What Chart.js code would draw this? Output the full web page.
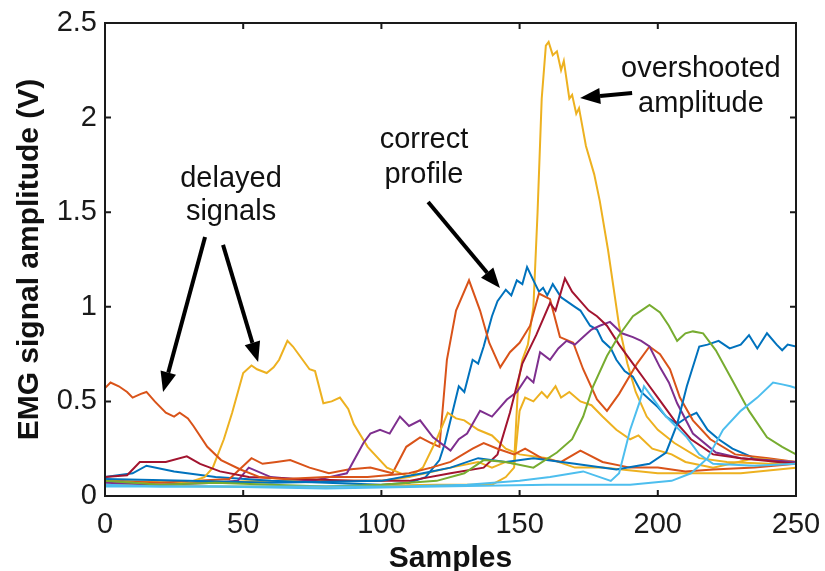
<!DOCTYPE html>
<html>
<head>
<meta charset="utf-8">
<script src="https://cdn.jsdelivr.net/npm/chart.js@4"></script>
<style>
  html, body { margin: 0; padding: 0; background: #fff; }
  #wrap { width: 825px; height: 571px; }
</style>
</head>
<body>
<div id="wrap"><canvas id="myChart" width="825" height="571"></canvas></div>
<script>
// axis ticks
const xTicks = [0, 50, 100, 150, 200, 250];
const yTicks = [0, 0.5, 1, 1.5, 2, 2.5];

// series (sample index, amplitude in V)
const delayedRedX = [0, 2, 5, 8, 10, 13, 15, 18, 22, 25, 27, 30, 32, 37, 42, 49, 56, 65, 80, 95, 110, 118, 125, 133, 137, 142, 148, 152, 158, 165, 172, 180, 190, 200, 210, 220, 235, 250];
const delayedRedY = [0.57, 0.6, 0.58, 0.55, 0.52, 0.54, 0.55, 0.5, 0.44, 0.42, 0.44, 0.41, 0.37, 0.26, 0.19, 0.14, 0.1, 0.09, 0.1, 0.1, 0.12, 0.15, 0.18, 0.25, 0.28, 0.25, 0.22, 0.25, 0.2, 0.18, 0.24, 0.18, 0.15, 0.15, 0.13, 0.14, 0.15, 0.17];

const delayedYellowX = [0, 10, 20, 30, 36, 39, 43, 46, 50, 53, 55, 58.5, 61, 63, 66, 68, 70.5, 74, 76, 79, 82, 85, 88, 90, 95, 102, 107, 110, 115, 120, 124, 127, 130, 135, 140, 145, 150, 160, 170, 180, 200, 230, 250];
const delayedYellowY = [0.08, 0.07, 0.06, 0.07, 0.1, 0.15, 0.3, 0.44, 0.65, 0.69, 0.67, 0.65, 0.68, 0.72, 0.82, 0.79, 0.74, 0.67, 0.66, 0.49, 0.5, 0.52, 0.46, 0.38, 0.26, 0.15, 0.12, 0.1, 0.15, 0.3, 0.44, 0.41, 0.4, 0.35, 0.32, 0.25, 0.22, 0.2, 0.15, 0.15, 0.12, 0.12, 0.15];

const correctX = [0, 10, 15, 25, 40, 60, 80, 100, 110, 116, 121, 123, 125, 128, 130, 133, 135, 137, 140, 142, 145, 147, 149, 151, 152.7, 155, 157, 158.5, 160, 162, 165, 167, 170, 172, 175.5, 178, 180, 183, 185, 188, 191, 194, 197, 200, 203, 207, 211, 214, 218, 222, 227, 235, 250];
const correctY = [0.1, 0.12, 0.16, 0.13, 0.1, 0.08, 0.07, 0.06, 0.07, 0.1, 0.19, 0.28, 0.4, 0.58, 0.55, 0.72, 0.7, 0.79, 0.95, 1.03, 1.09, 1.06, 1.14, 1.12, 1.21, 1.14, 1.08, 1.1, 1.06, 1.12, 1.05, 1.03, 1.0, 0.98, 0.9, 0.88, 0.82, 0.78, 0.72, 0.66, 0.63, 0.55, 0.51, 0.47, 0.42, 0.38, 0.42, 0.44, 0.35, 0.3, 0.25, 0.2, 0.17];

const purpleX = [0, 20, 40, 48, 52, 60, 75, 87.5, 93.5, 96, 99.5, 103, 106.7, 110, 114, 118.7, 125, 128, 131, 135.7, 140, 143, 145.4, 149, 152.7, 155, 157.4, 161, 164, 167, 170, 173, 176, 179, 182.7, 187, 191, 194, 197, 200.8, 204, 207, 212.7, 221, 230, 250];
const purpleY = [0.07, 0.06, 0.07, 0.08, 0.15, 0.1, 0.08, 0.12, 0.28, 0.33, 0.35, 0.33, 0.42, 0.37, 0.4, 0.31, 0.24, 0.3, 0.33, 0.45, 0.42, 0.47, 0.51, 0.55, 0.63, 0.6, 0.76, 0.72, 0.78, 0.82, 0.8, 0.84, 0.88, 0.9, 0.92, 0.86, 0.84, 0.82, 0.79, 0.68, 0.6, 0.49, 0.33, 0.23, 0.2, 0.18];

const greenX = [0, 20, 40, 60, 80, 100, 120, 130, 137, 145, 155, 163.5, 169, 173, 176.6, 181.6, 186, 191, 194, 197, 200.8, 204, 207, 210, 212.7, 216.4, 221, 227, 233, 239.5, 245, 250];
const greenY = [0.08, 0.06, 0.07, 0.06, 0.05, 0.06, 0.08, 0.12, 0.19, 0.18, 0.15, 0.23, 0.3, 0.42, 0.58, 0.74, 0.85, 0.95, 0.98, 1.01, 0.97, 0.9, 0.82, 0.86, 0.87, 0.86, 0.77, 0.61, 0.45, 0.31, 0.26, 0.22];

const lightBlueX = [0, 20, 50, 80, 107, 131, 150, 161, 173, 183, 186, 190, 193.5, 195, 199, 203, 210.5, 215, 220, 235, 250];
const lightBlueY = [0.06, 0.05, 0.05, 0.05, 0.05, 0.06, 0.08, 0.1, 0.13, 0.08, 0.12, 0.35, 0.5, 0.58, 0.5, 0.42, 0.31, 0.22, 0.17, 0.16, 0.17];

const darkRedX = [0, 8, 12.6, 22, 29.6, 34.4, 41.6, 52, 70, 90, 110, 125, 137, 142, 146.5, 151, 156, 161, 163, 166.4, 169, 172, 175, 178, 181.6, 186, 191, 196, 201, 206, 212, 220, 230, 250];
const darkRedY = [0.1, 0.11, 0.18, 0.18, 0.21, 0.17, 0.13, 0.1, 0.09, 0.08, 0.08, 0.12, 0.15, 0.22, 0.44, 0.7, 0.85, 1.02, 0.98, 1.15, 1.08, 1.03, 0.98, 0.95, 0.9, 0.8, 0.7, 0.6, 0.5, 0.4, 0.3, 0.22, 0.2, 0.17];

const lateBlueX = [0, 30, 60, 100, 115, 125, 135, 145, 155, 170, 185, 197, 203, 207, 210.5, 215, 218, 222, 226, 230, 233, 236, 239.5, 243, 245, 247, 250];
const lateBlueY = [0.09, 0.08, 0.07, 0.08, 0.12, 0.15, 0.2, 0.18, 0.2, 0.17, 0.14, 0.17, 0.23, 0.38, 0.58, 0.79, 0.8, 0.82, 0.78, 0.8, 0.85, 0.78, 0.86, 0.8, 0.77, 0.8, 0.79];

const peakRedX = [0, 20, 45, 53, 57, 62, 67, 74, 81, 88, 96, 104, 109, 114, 118, 121, 123.7, 127, 131.7, 135.7, 139, 143, 146.5, 150, 153.8, 157, 161, 164.6, 169.4, 173, 178, 181.6, 186, 192.5, 197, 200.8, 204.4, 208, 212.7, 219, 228, 240, 250];
const peakRedY = [0.08, 0.07, 0.09, 0.2, 0.17, 0.18, 0.19, 0.15, 0.12, 0.14, 0.15, 0.12, 0.26, 0.31, 0.28, 0.26, 0.72, 0.98, 1.14, 0.98, 0.81, 0.68, 0.76, 0.81, 0.9, 1.07, 1.04, 0.84, 0.81, 0.67, 0.51, 0.45, 0.54, 0.7, 0.79, 0.75, 0.67, 0.52, 0.4, 0.3, 0.22, 0.2, 0.18];

const overshootX = [0, 30, 60, 100, 110, 125, 135, 140, 145, 148, 149.5, 151, 153, 155, 156.5, 158, 159.5, 160.5, 162, 163.5, 165, 166, 168, 169, 170.5, 171.5, 174, 177, 179, 182, 184, 186, 189, 192, 196, 200, 206, 215, 225, 240, 250];
const overshootY = [0.08, 0.07, 0.08, 0.08, 0.1, 0.15, 0.18, 0.15, 0.18, 0.17, 0.6, 0.72, 0.8, 1.0, 1.5, 2.1, 2.38, 2.4, 2.33, 2.35, 2.25, 2.3, 2.1, 2.12, 2.02, 2.05, 1.85, 1.7, 1.56, 1.3, 1.1, 0.9, 0.7, 0.55, 0.42, 0.35, 0.28, 0.2, 0.18, 0.17, 0.18];

const plateauX = [0, 40, 80, 120, 140, 145, 148, 150, 152, 155, 158, 160, 163, 165, 168, 172, 176, 180, 185, 190, 193, 198, 205, 210, 220, 235, 250];
const plateauY = [0.06, 0.05, 0.05, 0.06, 0.06, 0.1, 0.15, 0.45, 0.52, 0.5, 0.55, 0.52, 0.58, 0.52, 0.55, 0.5, 0.48, 0.42, 0.35, 0.3, 0.32, 0.25, 0.22, 0.18, 0.15, 0.2, 0.18];

const lateLightBlueX = [0, 40, 80, 120, 160, 190, 205, 212, 218, 223.6, 230, 236, 241.7, 245, 248, 250];
const lateLightBlueY = [0.05, 0.05, 0.04, 0.05, 0.06, 0.06, 0.08, 0.12, 0.2, 0.35, 0.45, 0.52, 0.6, 0.59, 0.58, 0.57];

// annotation texts and arrows in data units
const labels = [
  { text: 'delayed', x: 45.6, y: 1.633 },
  { text: 'signals', x: 45.6, y: 1.459 },
  { text: 'correct', x: 115.4, y: 1.839 },
  { text: 'profile', x: 115.4, y: 1.654 },
  { text: 'overshooted', x: 215.6, y: 2.215 },
  { text: 'amplitude', x: 215.6, y: 2.03 }
];
const arrows = [
  { x0: 36.2, y0: 1.369, x1: 21.0, y1: 0.55 },
  { x0: 42.7, y0: 1.327, x1: 55.4, y1: 0.708 },
  { x0: 116.9, y0: 1.554, x1: 142.9, y1: 1.099 },
  { x0: 190.7, y0: 2.13, x1: 171.9, y1: 2.104 }
];

function pts(xs, ys) {
  return xs.map((x, i) => ({ x: x, y: ys[i] }));
}

function line(xs, ys, color) {
  return {
    data: pts(xs, ys),
    borderColor: color,
    borderWidth: 2,
    pointRadius: 0,
    tension: 0,
    fill: false
  };
}

const frame = {
  id: 'frame',
  afterDatasetsDraw(chart) {
    const ctx = chart.ctx;
    const a = chart.chartArea;
    const xs = chart.scales.x;
    const ys = chart.scales.y;
    ctx.save();
    ctx.strokeStyle = '#1a1a1a';
    ctx.lineWidth = 2;
    ctx.strokeRect(a.left, a.top, a.right - a.left, a.bottom - a.top);
    ctx.beginPath();
    xTicks.forEach(t => {
      const px = xs.getPixelForValue(t);
      ctx.moveTo(px, a.bottom); ctx.lineTo(px, a.bottom - 6);
      ctx.moveTo(px, a.top); ctx.lineTo(px, a.top + 6);
    });
    yTicks.forEach(t => {
      const py = ys.getPixelForValue(t);
      ctx.moveTo(a.left, py); ctx.lineTo(a.left + 6, py);
      ctx.moveTo(a.right, py); ctx.lineTo(a.right - 6, py);
    });
    ctx.stroke();

    // annotation text
    ctx.fillStyle = '#111';
    ctx.font = '29px "Liberation Sans", Arial, sans-serif';
    ctx.textAlign = 'center';
    ctx.textBaseline = 'alphabetic';
    labels.forEach(l => {
      ctx.fillText(l.text, xs.getPixelForValue(l.x), ys.getPixelForValue(l.y));
    });

    // arrows
    ctx.strokeStyle = '#000';
    ctx.fillStyle = '#000';
    ctx.lineWidth = 4;
    arrows.forEach(ar => {
      const x0 = xs.getPixelForValue(ar.x0), y0 = ys.getPixelForValue(ar.y0);
      const x1 = xs.getPixelForValue(ar.x1), y1 = ys.getPixelForValue(ar.y1);
      const ang = Math.atan2(y1 - y0, x1 - x0);
      const len = 20, half = 8;
      const bx = x1 - len * Math.cos(ang), by = y1 - len * Math.sin(ang);
      ctx.beginPath();
      ctx.moveTo(x0, y0);
      ctx.lineTo(bx, by);
      ctx.stroke();
      ctx.beginPath();
      ctx.moveTo(x1, y1);
      ctx.lineTo(bx + half * Math.sin(ang), by - half * Math.cos(ang));
      ctx.lineTo(bx - half * Math.sin(ang), by + half * Math.cos(ang));
      ctx.closePath();
      ctx.fill();
    });
    ctx.restore();
  }
};

const ctx = document.getElementById('myChart');
new Chart(ctx, {
  type: 'line',
  data: {
    datasets: [
      line(lateLightBlueX, lateLightBlueY, '#4DBEEE'),
      line(lightBlueX, lightBlueY, '#4DBEEE'),
      line(greenX, greenY, '#77AC30'),
      line(lateBlueX, lateBlueY, '#0072BD'),
      line(delayedRedX, delayedRedY, '#D95319'),
      line(darkRedX, darkRedY, '#A2142F'),
      line(purpleX, purpleY, '#7E2F8E'),
      line(plateauX, plateauY, '#EDB120'),
      line(delayedYellowX, delayedYellowY, '#EDB120'),
      line(peakRedX, peakRedY, '#D95319'),
      line(correctX, correctY, '#0072BD'),
      line(overshootX, overshootY, '#EDB120')
    ]
  },
  options: {
    responsive: false,
    animation: false,
    layout: { padding: { top: 23, right: 29, left: 0, bottom: 0 } },
    plugins: { legend: { display: false }, tooltip: { enabled: false } },
    scales: {
      x: {
        type: 'linear',
        min: 0,
        max: 250,
        afterBuildTicks: s => { s.ticks = xTicks.map(v => ({ value: v })); },
        afterFit: s => { s.height = 75; s.paddingLeft = 0; s.paddingRight = 0; },
        grid: { display: false, drawTicks: false },
        border: { display: false },
        ticks: { padding: 12, color: '#1a1a1a', callback: v => String(v), font: { family: '"Liberation Sans", Arial, sans-serif', size: 29 }, maxRotation: 0 },
        title: { display: true, text: 'Samples', color: '#111', padding: { top: 0, bottom: -3 }, font: { family: '"Liberation Sans", Arial, sans-serif', size: 30, weight: 'bold', lineHeight: 1 } }
      },
      y: {
        type: 'linear',
        min: 0,
        max: 2.5,
        afterBuildTicks: s => { s.ticks = yTicks.map(v => ({ value: v })); },
        afterFit: s => { s.width = 105; s.paddingTop = 0; s.paddingBottom = 0; },
        grid: { display: false, drawTicks: false },
        border: { display: false },
        ticks: { padding: 8, color: '#1a1a1a', callback: v => String(v), font: { family: '"Liberation Sans", Arial, sans-serif', size: 29 } },
        title: { display: true, text: 'EMG signal amplitude (V)', color: '#111', padding: { top: 15, bottom: 0 }, font: { family: '"Liberation Sans", Arial, sans-serif', size: 30, weight: 'bold', lineHeight: 1 } }
      }
    }
  },
  plugins: [frame]
});
</script>
</body>
</html>
